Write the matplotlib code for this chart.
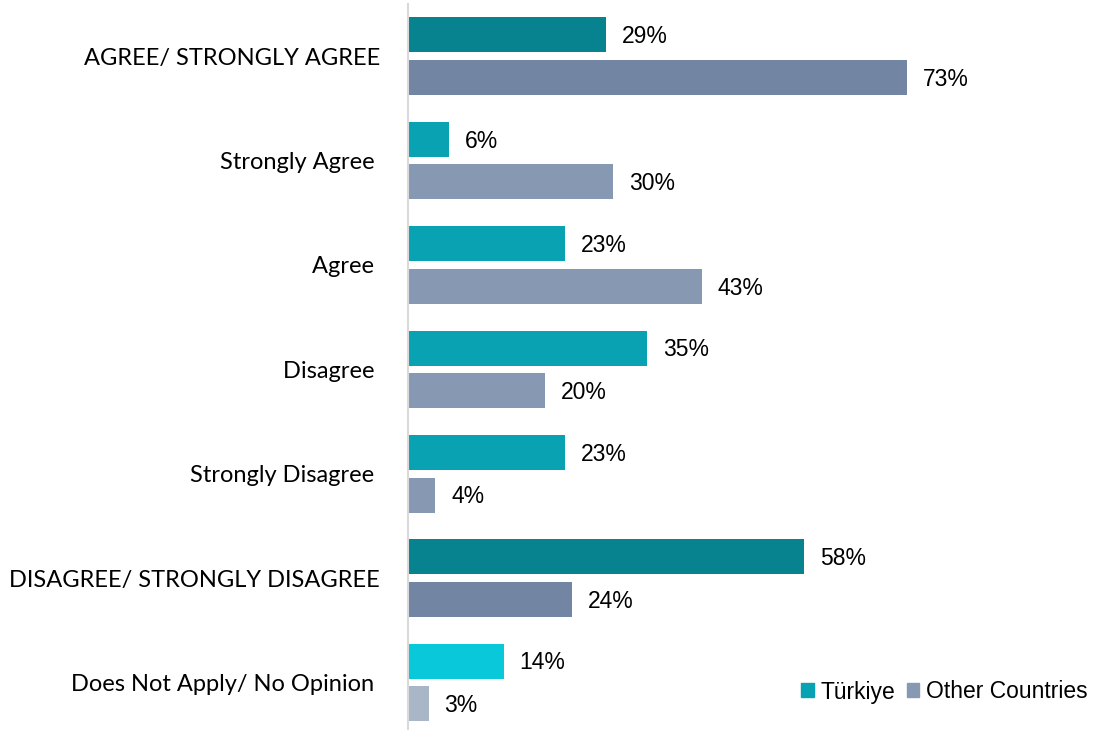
import matplotlib.pyplot as plt
from matplotlib.patches import Patch

categories = ["AGREE/ STRONGLY AGREE", "Strongly Agree ", "Agree ", "Disagree ",
              "Strongly Disagree ", "DISAGREE/ STRONGLY DISAGREE", "Does Not Apply/ No Opinion "]
turkiye = [29, 6, 23, 35, 23, 58, 14]
other = [73, 30, 43, 20, 4, 24, 3]
turkiye_colors = ["#07838F", "#08A2B2", "#08A2B2", "#08A2B2", "#08A2B2", "#07838F", "#08C8DA"]
other_colors = ["#7285A3", "#8799B2", "#8799B2", "#8799B2", "#8799B2", "#7285A3", "#A9B6C8"]

plt.rcParams['font.family'] = ['Liberation Sans', 'DejaVu Sans']
fig = plt.figure(figsize=(10.95, 7.30), dpi=100)
ax = fig.add_axes([408/1095, 0, (1095-408)/1095, 1 - 4/730])

ys = list(range(len(categories)))
h = 0.335
off = 0.204
base = 0.079
ax.barh([y - off for y in ys], turkiye, height=h, color=turkiye_colors)
ax.barh([y + off for y in ys], other, height=h, color=other_colors)

for y, v in zip(ys, turkiye):
    ax.text(v + 2.3, y - off + base, f"{v}%", va="baseline", ha="left", fontsize=16.5)
for y, v in zip(ys, other):
    ax.text(v + 2.3, y + off + base, f"{v}%", va="baseline", ha="left", fontsize=16.5)

ax.set_xlim(0, 100.5)
ax.set_ylim(6.455, -0.5)
ax.set_yticks(ys)
ax.set_yticklabels(categories, fontsize=17, family=['Lato', 'DejaVu Sans'])
ax.tick_params(axis="y", length=0, pad=20)
ax.set_xticks([])
for s in ["top", "right", "bottom"]:
    ax.spines[s].set_visible(False)
ax.spines["left"].set_color("#D9D9D9")
ax.spines["left"].set_linewidth(1.5)

handles = [Patch(color="#08A2B2", label="Türkiye"), Patch(color="#8799B2", label="Other Countries")]
fig.legend(handles=handles, loc="center right", bbox_to_anchor=(1.006, 1 - 692/730), ncol=2,
           frameon=False, fontsize=16.5, handlelength=0.55, handleheight=0.55,
           handletextpad=0.3, columnspacing=0.5, borderaxespad=0.2)

fig.savefig("out.png", dpi=100)
